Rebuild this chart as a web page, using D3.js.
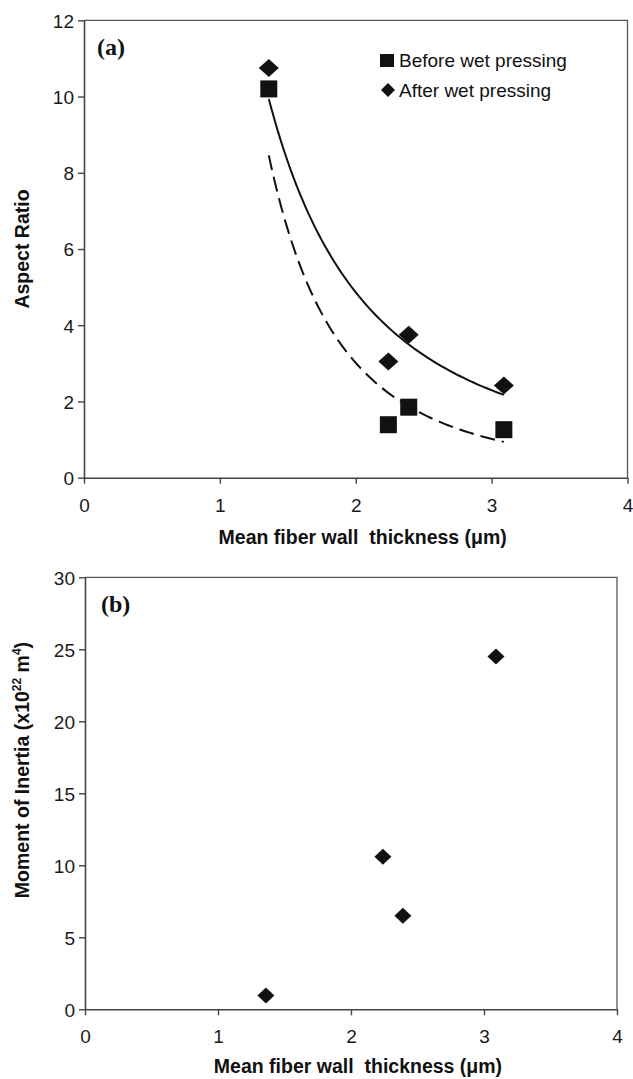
<!DOCTYPE html>
<html>
<head>
<meta charset="utf-8">
<script src="https://cdn.jsdelivr.net/npm/d3@7"></script>
<style>
  html, body { margin: 0; padding: 0; background: #fff; }
  svg { display: block; }
  .tick text { font-family: "Liberation Sans", Arial, sans-serif; font-size: 19px; fill: #1a1a1a; }
  .axis-title { font-family: "Liberation Sans", Arial, sans-serif; font-size: 19.5px; font-weight: bold; fill: #111; }
  .panel-tag { font-family: "Liberation Serif", "Times New Roman", serif; font-size: 24px; font-weight: bold; fill: #111; }
  .legend-text { font-family: "Liberation Sans", Arial, sans-serif; font-size: 19px; fill: #111; }
</style>
</head>
<body>
<script>
// Fiber wall thickness (µm) shared by both panels
const xThickness = [1.36, 2.24, 2.39, 3.09];
// Panel (a): aspect ratio before / after wet pressing
const aspectBefore = [10.2, 1.39, 1.85, 1.26];
const aspectAfter = [10.75, 3.05, 3.75, 2.42];
// Panel (b): moment of inertia (x10^22 m^4)
const inertia = [0.95, 10.6, 6.5, 24.5];

const xTicks = [0, 1, 2, 3, 4];
const aspectTicks = [0, 2, 4, 6, 8, 10, 12];
const inertiaTicks = [0, 5, 10, 15, 20, 25, 30];
const legendLabels = ["Before wet pressing", "After wet pressing"];

const W = 633, H = 1079;
const svg = d3.select("body").append("svg").attr("width", W).attr("height", H);
svg.append("rect").attr("width", W).attr("height", H).attr("fill", "#fff");

const markFill = "#111";

// Least-squares power trendline y = a * x^b (fit in log-log space)
function fitPower(xs, ys) {
  const lx = xs.map(Math.log), ly = ys.map(Math.log);
  const mx = d3.mean(lx), my = d3.mean(ly);
  const sxy = d3.sum(lx, (v, i) => (v - mx) * (ly[i] - my));
  const sxx = d3.sum(lx, v => (v - mx) * (v - mx));
  const b = sxy / sxx;
  const a = Math.exp(my - b * mx);
  return x => a * Math.pow(x, b);
}

function diamondPath(hw, hh) {
  return `M0,${-hh}L${hw},0L0,${hh}L${-hw},0Z`;
}

function drawFrame(g, x, y, yTicks) {
  const [x0, x1] = x.range();
  const [yb, yt] = y.range();
  // plot area border
  g.append("path")
    .attr("d", `M${x0},${yt}H${x1}V${yb}`)
    .attr("fill", "none").attr("stroke", "#555").attr("stroke-width", 1.3);

  const ax = g.append("g").attr("transform", `translate(0,${yb})`)
    .call(d3.axisBottom(x).tickValues(xTicks).tickFormat(d3.format("d"))
      .tickSize(6).tickSizeOuter(0).tickPadding(14.5));
  const ay = g.append("g").attr("transform", `translate(${x0},0)`)
    .call(d3.axisLeft(y).tickValues(yTicks).tickFormat(d3.format("d"))
      .tickSize(6).tickSizeOuter(0).tickPadding(4));
  [ax, ay].forEach(a => {
    a.select(".domain").attr("stroke", "#444").attr("stroke-width", 1.6);
    a.selectAll(".tick line").attr("stroke", "#444").attr("stroke-width", 1.4);
  });
  ay.selectAll(".tick text").attr("dy", "0.36em");
}

function xTitle(g, x, baseline) {
  const [x0, x1] = x.range();
  g.append("text").attr("class", "axis-title")
    .attr("x", (x0 + x1) / 2 + 7).attr("y", baseline)
    .attr("text-anchor", "middle")
    .text("Mean fiber wall\u00a0 thickness (\u03bcm)");
}

// ---------- Panel (a) ----------
const xa = d3.scaleLinear().domain([0, 4]).range([84, 627.5]);
const ya = d3.scaleLinear().domain([0, 12]).range([477.7, 20.3]);
const ga = svg.append("g");
drawFrame(ga, xa, ya, aspectTicks);
xTitle(ga, xa, 544);

ga.append("text").attr("class", "axis-title")
  .attr("transform", `translate(29,${(ya.range()[0] + ya.range()[1]) / 2}) rotate(-90)`)
  .attr("text-anchor", "middle")
  .text("Aspect Ratio");

ga.append("text").attr("class", "panel-tag").attr("x", 97).attr("y", 55).text("(a)");

// trendlines
const xMin = d3.min(xThickness), xMax = d3.max(xThickness);
const samples = d3.range(0, 81).map(i => xMin + (xMax - xMin) * i / 80);
const fitAfter = fitPower(xThickness, aspectAfter);
const fitBefore = fitPower(xThickness, aspectBefore);
const lineA = d3.line().x(d => xa(d[0])).y(d => ya(d[1])).curve(d3.curveLinear);

ga.append("path")
  .attr("d", lineA(samples.map(v => [v, fitAfter(v)])))
  .attr("fill", "none").attr("stroke", "#111").attr("stroke-width", 2);
ga.append("path")
  .attr("d", lineA(samples.map(v => [v, fitBefore(v)])))
  .attr("fill", "none").attr("stroke", "#111").attr("stroke-width", 2)
  .attr("stroke-dasharray", "15,7");

// markers
ga.selectAll("rect.before").data(xThickness).enter().append("rect")
  .attr("class", "before")
  .attr("x", d => xa(d) - 8.5).attr("y", (d, i) => ya(aspectBefore[i]) - 8.5)
  .attr("width", 17).attr("height", 17).attr("fill", markFill);
ga.selectAll("path.after").data(xThickness).enter().append("path")
  .attr("class", "after")
  .attr("transform", (d, i) => `translate(${xa(d)},${ya(aspectAfter[i])})`)
  .attr("d", diamondPath(10, 9)).attr("fill", markFill);

// legend
const lg = ga.append("g");
lg.append("rect").attr("x", 380).attr("y", 54).attr("width", 14).attr("height", 13).attr("fill", markFill);
lg.append("text").attr("class", "legend-text").attr("x", 399).attr("y", 67).text(legendLabels[0]);
lg.append("path").attr("transform", "translate(388,90)").attr("d", diamondPath(7, 7)).attr("fill", markFill);
lg.append("text").attr("class", "legend-text").attr("x", 399).attr("y", 97).text(legendLabels[1]);

// ---------- Panel (b) ----------
const xb = d3.scaleLinear().domain([0, 4]).range([85, 617]);
const yb = d3.scaleLinear().domain([0, 30]).range([1009.3, 577.3]);
const gb = svg.append("g");
drawFrame(gb, xb, yb, inertiaTicks);
xTitle(gb, xb, 1073);

const yt = gb.append("text").attr("class", "axis-title")
  .attr("transform", "translate(29,770) rotate(-90)")
  .attr("text-anchor", "middle");
yt.append("tspan").text("Moment of Inertia (x10");
yt.append("tspan").attr("dy", -8).attr("font-size", "12px").text("22");
yt.append("tspan").attr("dy", 8).text(" m");
yt.append("tspan").attr("dy", -8).attr("font-size", "12px").text("4");
yt.append("tspan").attr("dy", 8).text(")");

gb.append("text").attr("class", "panel-tag").attr("x", 101).attr("y", 612).text("(b)");

gb.selectAll("path.inertia").data(xThickness).enter().append("path")
  .attr("class", "inertia")
  .attr("transform", (d, i) => `translate(${xb(d)},${yb(inertia[i])})`)
  .attr("d", diamondPath(8.5, 8)).attr("fill", markFill);
</script>
</body>
</html>
